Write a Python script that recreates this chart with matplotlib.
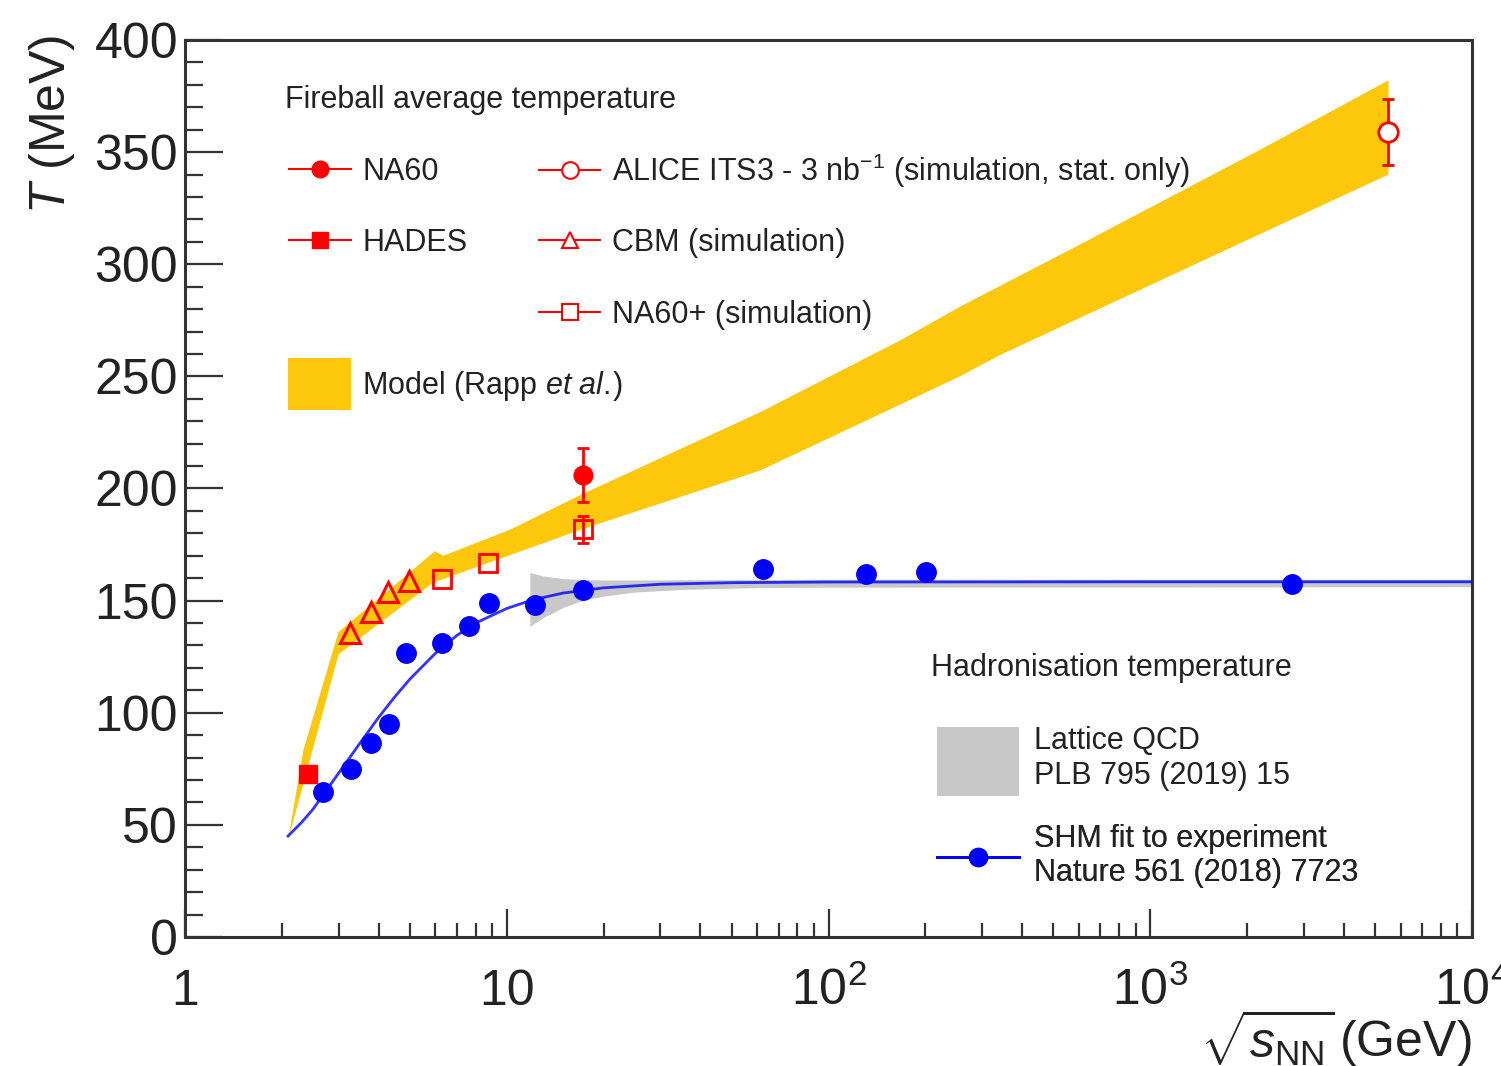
import numpy as np
import matplotlib
matplotlib.use('Agg')
import matplotlib.pyplot as plt
from matplotlib.lines import Line2D
from matplotlib.patches import Patch
from matplotlib.ticker import FixedLocator, FixedFormatter, MultipleLocator, LogLocator, NullFormatter

plt.rcParams['font.family'] = ['Liberation Sans', 'DejaVu Sans']
plt.rcParams['mathtext.fontset'] = 'custom'
plt.rcParams['mathtext.rm'] = 'Liberation Sans'
plt.rcParams['mathtext.it'] = 'Liberation Sans:italic'
plt.rcParams['mathtext.bf'] = 'Liberation Sans:bold'

TXT = '#222222'
YELLOW = '#fdc70c'
GREY = '#c8c8c8'
BLUE = '#0000ff'
RED = '#ff0000'

# fireball model band (Rapp et al.), upper and lower edges
model_up_x = [2.09, 2.33, 3.0, 5.98, 6.35, 10.2, 16.9, 61.3, 166.8, 256, 590, 2193, 5500]
model_up_T = [43, 83, 136, 172, 170, 181.5, 197, 234, 266, 281, 308, 351, 382]
model_lo_x = [2.09, 3.0, 5.9, 16.9, 61.3, 256, 341, 1854, 5500]
model_lo_T = [43, 126, 158, 181.5, 208, 250, 259.5, 308.6, 340]

# lattice QCD pseudo-critical temperature band
lqcd_x = [11.8, 13, 15, 17.3, 20, 25, 35, 60, 100, 10000]
lqcd_up = [162.5, 161.0, 159.8, 159.4, 159.2, 159.2, 159.3, 159.4, 159.5, 159.5]
lqcd_lo = [138.5, 142.5, 147.0, 150.3, 152.0, 153.8, 155.0, 155.8, 156.0, 156.2]

# SHM fit curve to chemical freeze-out points
shm_curve_x = [2.09, 2.3, 2.5, 2.75, 3.0, 3.5, 4.0, 4.5, 5.0, 6.0, 7.0, 8.0, 10, 12, 15, 20, 30, 50, 100, 1000, 10000]
shm_curve_T = [45, 51, 57, 65.4, 73, 86.5, 98, 107.3, 115, 126.5, 134.5, 140, 146.5, 150.3, 153.4, 155.7, 157.3, 158.0, 158.3, 158.4, 158.4]

# SHM freeze-out temperatures
shm_x = [2.69, 3.28, 3.78, 4.30, 4.86, 6.29, 7.62, 8.83, 12.27, 17.3, 62.4, 130.5, 200.5, 2760]
shm_T = [64.8, 74.8, 86.6, 95.0, 126.8, 131.0, 138.7, 148.8, 148.2, 154.7, 164.0, 161.9, 162.9, 157.4]

# dilepton slope temperatures
na60_x, na60_T, na60_err = [17.3], [206], [12]
hades_x, hades_T = [2.42], [72.7]
alice_x, alice_T, alice_err = [5500], [359], [14.7]
cbm_x = [3.26, 3.78, 4.27, 4.96]
cbm_T = [135.5, 145.0, 154.0, 158.8]
na60p_x = [6.29, 8.77, 17.3]
na60p_T = [159.5, 166.6, 181.8]
na60p_err = [0, 0, 6]

xtick_vals = [1, 10, 100, 1000, 10000]
xtick_labels = ['1', '10', r'$10^{2}$', r'$10^{3}$', r'$10^{4}$']

W, H = 1501, 1066
fig = plt.figure(figsize=(W / 100, H / 100), dpi=100)
ax = fig.add_axes([185 / W, 129 / H, 1287 / W, 897 / H])


def fig_xy(x, y):
    # pixel position (from top left) -> figure fraction
    return (x / W, 1 - y / H)


# bands
band_x = model_up_x + model_lo_x[::-1]
band_T = model_up_T + model_lo_T[::-1]
ax.fill(band_x, band_T, color=YELLOW, lw=0, zorder=1)
ax.fill_between(lqcd_x, lqcd_lo, lqcd_up, color=GREY, lw=0, zorder=2)

# hadronisation
ax.plot(shm_curve_x, shm_curve_T, color=BLUE, lw=2, alpha=0.8, zorder=3)
ax.plot(shm_x, shm_T, 'o', color=BLUE, ms=14, zorder=4)

# fireball temperatures
ekw = dict(color=RED, elinewidth=2, capsize=4, capthick=2, zorder=6)
ax.errorbar(na60_x, na60_T, yerr=na60_err, fmt='o', ms=13.5, **ekw)
ax.plot(hades_x, hades_T, 's', color=RED, ms=13, zorder=6)
ax.errorbar(alice_x, alice_T, yerr=alice_err, fmt='o', ms=14, mfc='white', mec=RED, mew=2, **ekw)
ax.plot(cbm_x, cbm_T, '^', ms=14, mfc='none', mec=RED, mew=2.2, zorder=6)
ax.plot(na60p_x, na60p_T, 's', ms=13, mfc='none', mec=RED, mew=2, zorder=6)
has_err = np.array(na60p_err) > 0
ax.errorbar(np.array(na60p_x)[has_err], np.array(na60p_T)[has_err],
            yerr=np.array(na60p_err)[has_err], fmt='none', **ekw)

# axes
ax.set_xscale('log')
ax.set_xlim(1, 1e4)
ax.set_ylim(0, 400)
ax.xaxis.set_major_locator(FixedLocator(xtick_vals))
ax.xaxis.set_major_formatter(FixedFormatter(xtick_labels))
ax.xaxis.set_minor_locator(LogLocator(base=10, subs=np.arange(2, 10)))
ax.xaxis.set_minor_formatter(NullFormatter())
ax.yaxis.set_major_locator(MultipleLocator(50))
ax.yaxis.set_minor_locator(MultipleLocator(10))

for s in ax.spines.values():
    s.set_linewidth(2.2)
    s.set_color('#333333')
ax.tick_params(axis='both', which='both', direction='in', top=False, right=False,
               colors='#333333', width=1.6, labelcolor=TXT, labelsize=36)
ax.tick_params(axis='y', which='major', length=27, pad=5)
ax.tick_params(axis='y', which='minor', length=13)
ax.tick_params(axis='x', which='major', length=20, pad=49)
ax.tick_params(axis='x', which='minor', length=10)
for lab in ax.get_xticklabels():
    lab.set_va('baseline')

ax.set_ylabel(r'$T$ (MeV)', fontsize=36, color=TXT, loc='top')
ax.yaxis.set_label_coords(-0.084, 1.006)
ax.set_xlabel(r'$\sqrt{s_{\mathrm{NN}}}\!$ (GeV)', fontsize=36, color=TXT, loc='right')
ax.xaxis.set_label_coords(1.0, -0.078)

# legend headers
fig.text(*fig_xy(285, 100), 'Fireball average temperature', fontsize=22, color=TXT, va='center')
fig.text(*fig_xy(931, 668), 'Hadronisation temperature', fontsize=22, color=TXT, va='center')

# legend entries, one row each
h_na60 = Line2D([], [], color=RED, lw=1.5, marker='o', ms=12)
h_hades = Line2D([], [], color=RED, lw=1.5, marker='s', ms=11)
h_alice = Line2D([], [], color=RED, lw=1.5, marker='o', ms=12, mfc='white', mec=RED, mew=1.5)
h_cbm = Line2D([], [], color=RED, lw=1.5, marker='^', ms=12, mfc='white', mec=RED, mew=1.5)
h_na60p = Line2D([], [], color=RED, lw=1.5, marker='s', ms=11, mfc='white', mec=RED, mew=1.5)
h_model = Patch(color=YELLOW, lw=0)
h_lqcd = Patch(color=GREY, lw=0)
h_shm = Line2D([], [], color=BLUE, lw=2, marker='o', ms=13)

rows = [
    # handle, label, left px, centre px, handlelength, handleheight, textpad
    (h_na60, 'NA60', 289, 172, 2.03, 0.7, 0.36),
    (h_hades, 'HADES', 289, 243, 2.03, 0.7, 0.36),
    (h_alice, r'ALICE ITS3 - 3 nb$^{-1}$ (simulation, stat. only)', 539, 171, 2.0, 0.7, 0.4),
    (h_cbm, 'CBM (simulation)', 539, 243, 2.0, 0.7, 0.4),
    (h_na60p, 'NA60+ (simulation)', 539, 315, 2.0, 0.7, 0.4),
    (h_model, r'Model (Rapp $et\ al.\!$)', 288, 384, 2.06, 2.24, 0.36),
    (h_lqcd, 'Lattice QCD\nPLB 795 (2019) 15', 937, 761, 2.68, 3.09, 0.49),
    (h_shm, 'SHM fit to experiment\nNature 561 (2018) 7723', 937, 856, 2.68, 0.7, 0.49),
]
for h, lab, x, y, hl, hh, tp in rows:
    leg = ax.legend([h], [lab], loc='center left', bbox_to_anchor=fig_xy(x, y),
                    bbox_transform=fig.transFigure, frameon=False, fontsize=22,
                    borderpad=0, borderaxespad=0, labelcolor=TXT,
                    handlelength=hl, handleheight=hh, handletextpad=tp)
    ax.add_artist(leg)

fig.savefig('out.png', dpi=100)
